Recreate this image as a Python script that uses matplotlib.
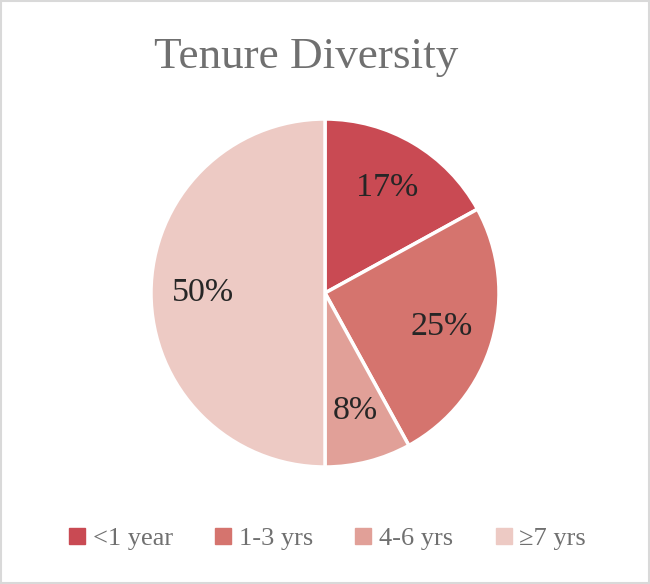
import matplotlib
matplotlib.use("Agg")
import matplotlib.pyplot as plt
from matplotlib.patches import Rectangle
from matplotlib.lines import Line2D

categories = ["<1 year", "1-3 yrs", "4-6 yrs", "≥7 yrs"]
values = [17, 25, 8, 50]
colors = ["#C94A53", "#D5746E", "#E1A098", "#EDCAC4"]

plt.rcParams['font.family'] = ['Liberation Serif', 'DejaVu Serif']

fig = plt.figure(figsize=(6.5, 5.84), dpi=100)
fig.patch.set_facecolor("white")
fig.add_artist(Rectangle((0.0015, 0.0015), 0.997, 0.997, transform=fig.transFigure,
                         fill=False, edgecolor="#D9D9D9", linewidth=1.5))

ax = fig.add_axes([151/650, 117/584, 348/650, 348/584])
wedges, texts, autotexts = ax.pie(values, colors=colors, startangle=90, counterclock=False,
       autopct=lambda p: f"{p:.0f}%", pctdistance=0.7, radius=1,
       wedgeprops=dict(edgecolor="white", linewidth=2.5),
       textprops=dict(fontsize=24.5, color="#262626"))
ax.set_xlim(-1, 1)
ax.set_ylim(-1, 1)
ax.set_aspect("equal")

fig.text(0.471, 1 - 57/584, "Tenure Diversity", ha="center", va="center",
         fontsize=32.5, color="#707070")

handles = [Line2D([], [], marker="s", linestyle="none", markersize=11.5,
                  markerfacecolor=c, markeredgecolor=c) for c in colors]
leg = fig.legend(handles, categories, loc="center", bbox_to_anchor=(0.5, 1 - 538/584),
                 ncol=4, frameon=False, fontsize=19, handletextpad=0.1, columnspacing=1.4,
                 handlelength=1.0)
for t in leg.get_texts():
    t.set_color("#707070")

fig.savefig("out.png", dpi=100)
